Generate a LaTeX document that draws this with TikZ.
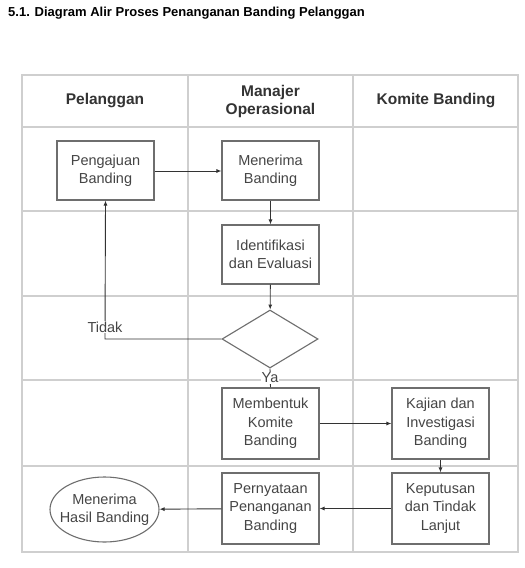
\documentclass[tikz,border=0pt]{standalone}
\usepackage{fontspec}
\setmainfont{Liberation Sans}
\usetikzlibrary{shapes.geometric,arrows.meta}
\definecolor{gridc}{HTML}{CFCFCF}
\definecolor{boxc}{HTML}{6E6E6E}
\definecolor{txtc}{HTML}{454545}
\definecolor{hdc}{HTML}{333333}
\tikzset{
  lane/.style={draw=gridc, line width=1.4pt},
  procbox/.style={draw=boxc, line width=1.1pt, minimum width=97pt, inner sep=0pt,
    align=center, text=txtc, font=\fontsize{14.5}{18.5}\selectfont},
  hdr/.style={align=center, text=hdc, font=\fontsize{15.5}{18}\selectfont\bfseries},
  flow/.style={draw=hdc, line width=0.9pt, -{Latex[length=5pt,width=4pt]}},
  plain/.style={draw=hdc, line width=0.9pt},
  lbl/.style={fill=white, inner sep=1pt, text=txtc, font=\fontsize{14.5}{17}\selectfont},
}
\begin{document}
\begin{tikzpicture}[x=1pt,y=-1pt]
\path[use as bounding box, fill=white] (0,0) rectangle (525,568);
% title
\node[anchor=west, inner sep=0pt, text=black, font=\fontsize{13}{15}\selectfont\bfseries] (title) at (8,13) {5.1. Diagram Alir Proses Penanganan Banding Pelanggan};
% table grid
\draw[lane] (22,75) rectangle (518,552);
\foreach \yy in {127,211,296,380,466} \draw[lane] (22,\yy) -- (518,\yy);
\foreach \xx in {188,353} \draw[lane] (\xx,75) -- (\xx,552);
% headers
\node[hdr] (h1) at (105,101) {Pelanggan};
\node[hdr] (h2) at (270.5,101) {Manajer\\Operasional};
\node[hdr] (h3) at (436,101) {Komite Banding};
% process nodes
\node[procbox, minimum height=59pt] (peng) at (105.5,170.5) {Pengajuan\\Banding};
\node[procbox, minimum height=59pt] (mene) at (270.5,170.5) {Menerima\\Banding};
\node[procbox, minimum height=59pt] (iden) at (270.5,254.5) {Identifikasi\\dan Evaluasi};
\node[draw=boxc, line width=1.1pt, diamond, minimum width=96pt, minimum height=58pt, inner sep=0pt] (dec) at (270,339) {};
\node[procbox, minimum height=71pt] (memb) at (270.5,423.5) {Membentuk\\Komite\\Banding};
\node[procbox, minimum height=71pt] (kaji) at (440.5,423.5) {Kajian dan\\Investigasi\\Banding};
\node[procbox, minimum height=71pt] (kepu) at (440.5,508.5) {Keputusan\\dan Tindak\\Lanjut};
\node[procbox, minimum height=71pt] (pern) at (270.5,508.5) {Pernyataan\\Penanganan\\Banding};
\node[draw=boxc, line width=1.1pt, ellipse, minimum width=109pt, minimum height=65pt, inner sep=0pt] (hasil) at (104.5,509.5) {};
\node[align=center, text=txtc, font=\fontsize{14.5}{18.5}\selectfont, inner sep=0pt] (hasilt) at (104.5,509.5) {Menerima\\Hasil Banding};
% connectors
\draw[flow] (peng.east |- 0,171) -- (mene.west |- 0,171);
\draw[flow] (mene) -- (iden);
\draw[flow] (iden) -- (dec);
\coordinate (tk) at (105,339);
\draw[flow] (dec.west) -- (tk) -- (peng.south);
\node[lbl] (tidak) at (105,327) {Tidak};
\draw[plain] (dec.south) -- (memb.north);
\node[lbl] (ya) at (270,378) {Ya};
\draw[flow] (memb) -- (kaji);
\draw[flow] (kaji) -- (kepu);
\draw[flow] (kepu) -- (pern);
\draw[flow] (pern) -- (hasil);
\end{tikzpicture}
\end{document}
